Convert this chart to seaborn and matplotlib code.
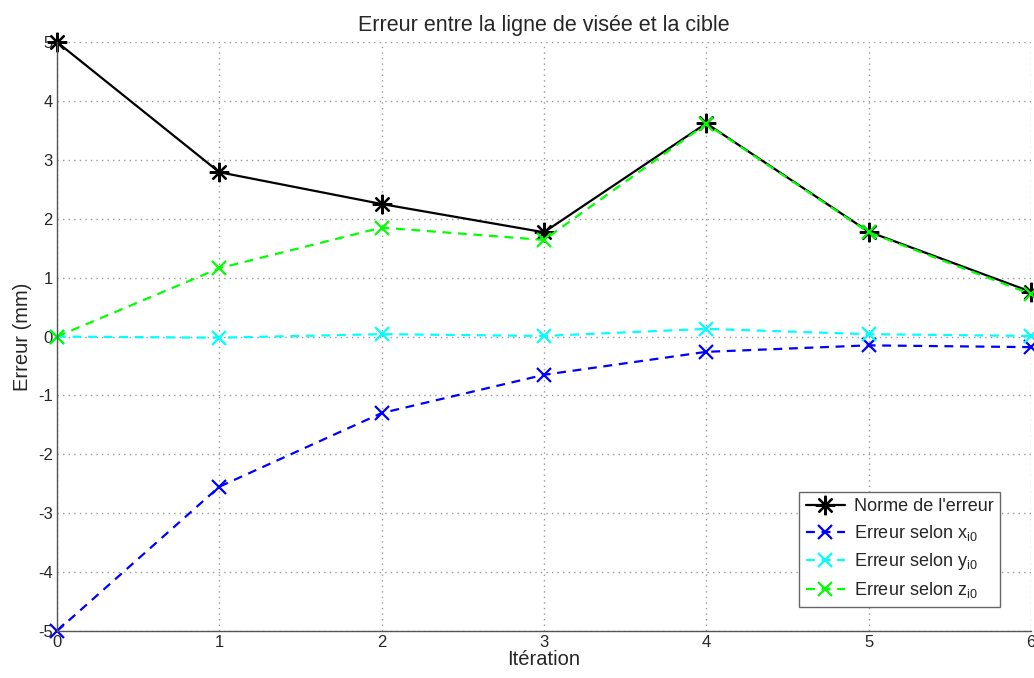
import numpy as np
import pandas as pd
import matplotlib
matplotlib.use('Agg')
import matplotlib.pyplot as plt
import seaborn as sns

iterations = [0, 1, 2, 3, 4, 5, 6]
norme = [5.0, 2.79, 2.25, 1.77, 3.62, 1.78, 0.76]
err_x = [-5.0, -2.55, -1.30, -0.65, -0.26, -0.15, -0.18]
err_y = [0.0, -0.02, 0.04, 0.01, 0.13, 0.04, 0.01]
err_z = [0.0, 1.16, 1.85, 1.64, 3.61, 1.77, 0.72]

sns.set_style('white')
plt.rcParams['font.family'] = ['Liberation Sans', 'DejaVu Sans']
plt.rcParams['mathtext.default'] = 'regular'
plt.rcParams['axes.unicode_minus'] = False

fig = plt.figure(figsize=(10.34, 6.78), dpi=100)
ax = fig.add_axes([0.0551, 0.0693, 0.9419, 0.8687])

series = [
    (norme, 'black', '-', (8, 2, 0), 14, "Norme de l'erreur"),
    (err_x, '#0000ff', (0, (4, 3)), 'x', 10, 'Erreur selon x$_{i0}$'),
    (err_y, '#00ffff', (0, (4, 3)), 'x', 10, 'Erreur selon y$_{i0}$'),
    (err_z, '#00ff00', (0, (4, 3)), 'x', 10, 'Erreur selon z$_{i0}$'),
]
for vals, col, ls, mk, ms, lab in series:
    sns.lineplot(x=iterations, y=vals, ax=ax, color=col, linestyle=ls, lw=1.6,
                 marker=mk, markersize=ms, markeredgewidth=1.6,
                 markeredgecolor=col, markerfacecolor=col, label=lab, clip_on=False)

ax.set_xlim(0, 6)
ax.set_ylim(-5, 5)
ax.set_xticks(range(0, 7))
ax.set_yticks(range(-5, 6))
ax.grid(True, linestyle=(0, (1, 3)), color='#999999', lw=1.0)
ax.tick_params(direction='in', length=5, color='#555555', labelsize=12, pad=3)
for s in ['top', 'right']:
    ax.spines[s].set_visible(False)
for s in ['left', 'bottom']:
    ax.spines[s].set_color('#555555')
    ax.spines[s].set_linewidth(1.0)

ax.set_title('Erreur entre la ligne de visée et la cible', fontsize=15.5, pad=8)
ax.set_xlabel('Itération', fontsize=14.5, labelpad=0)
ax.set_ylabel('Erreur (mm)', fontsize=14.5, labelpad=4)

leg = ax.legend(loc='lower right', bbox_to_anchor=(0.978, 0.026),
                fontsize=13, fancybox=False, framealpha=1, edgecolor='#666666',
                handlelength=2.2, borderpad=0.35, labelspacing=0.45, handletextpad=0.5)
leg.get_frame().set_linewidth(1.0)

fig.savefig('out.png', dpi=100)
